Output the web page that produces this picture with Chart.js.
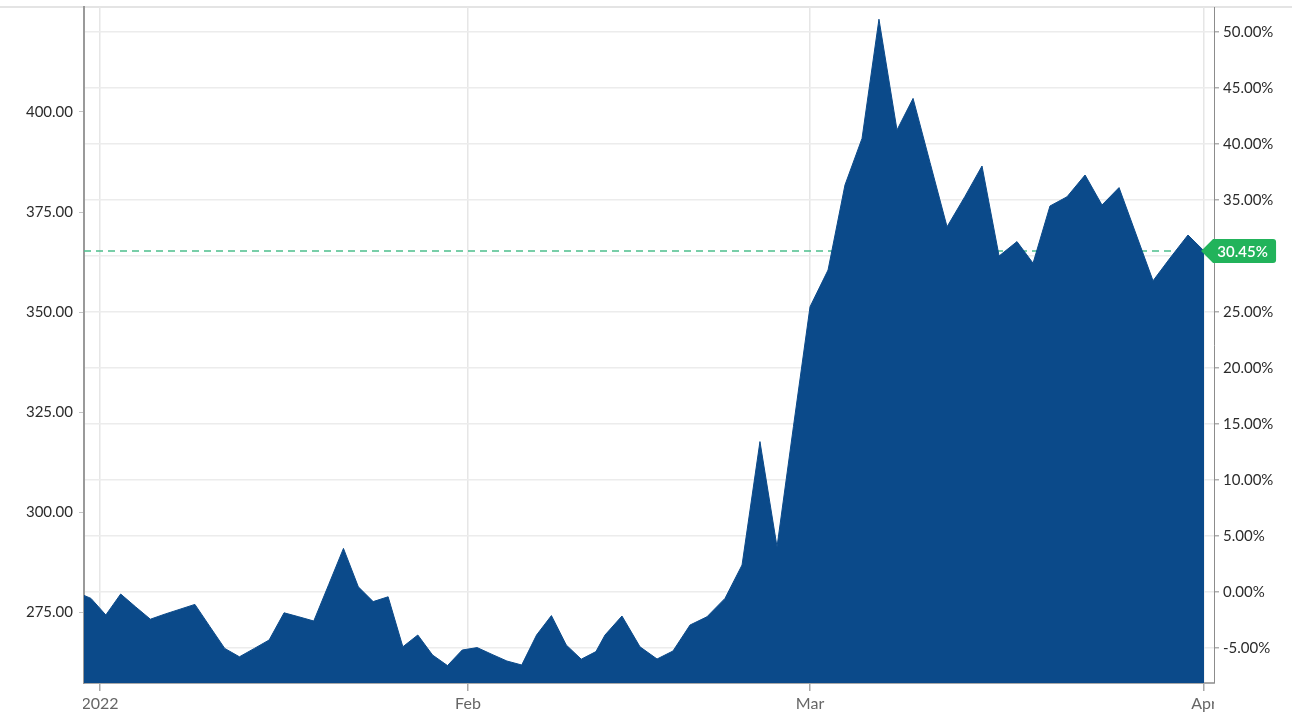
<!DOCTYPE html>
<html>
<head>
<meta charset="utf-8">
<script src="https://cdn.jsdelivr.net/npm/chart.js@4.4.1/dist/chart.umd.min.js"></script>
<style>
  html, body { margin: 0; padding: 0; background: #fff; }
  #wrap { position: relative; width: 1292px; height: 722px; }
</style>
</head>
<body>
<div id="wrap"><canvas id="priceChart"></canvas></div>
<script>
// position on the time axis, in days from 1 Jan 2022
var days = [
  -1.94, -0.73, 0.48, 1.69, 2.90, 4.11, 5.32, 6.53, 7.74, 8.95,
  10.17, 11.37, 12.59, 13.79, 15.01, 16.21, 17.43, 18.64, 19.85, 21.06,
  22.27, 23.49, 24.69, 25.91, 27.11, 28.33, 29.53, 30.75, 31.96, 33.17,
  34.38, 35.59, 36.80, 38.01, 39.23, 40.43, 41.17, 42.55, 44.02, 45.41,
  46.71, 48.10, 49.48, 50.95, 52.34, 53.80, 55.19, 56.53, 57.88, 59.35,
  60.73, 62.12, 63.50, 64.97, 66.28, 67.66, 69.05, 70.51, 71.90, 73.29,
  74.75, 76.06, 77.44, 78.83, 80.30, 81.68, 83.07, 84.45, 85.84, 87.23,
  88.69, 90.00
];

// price
var prices = [
  280.0, 278.4, 274.25, 279.5, 276.3, 273.2, 274.5, 275.7, 276.9, 271.4,
  265.9, 263.8, 265.9, 268.0, 274.8, 273.8, 272.75, 281.8, 290.9, 281.3,
  277.6, 278.8, 266.3, 269.25, 264.25, 261.6, 265.5, 266.1, 264.4, 262.75,
  261.75, 269.25, 274.1, 266.75, 263.2, 265.1, 269.25, 274.0, 266.3, 263.25,
  265.25, 271.75, 273.8, 278.4, 286.75, 317.6, 291.3, 321.4, 351.3, 360.5,
  381.75, 393.4, 423.2, 395.5, 403.4, 387.4, 371.3, 378.9, 386.5, 364.0,
  367.6, 362.2, 376.5, 378.8, 384.25, 376.75, 381.1, 369.5, 357.8, 363.5,
  369.25, 365.26
];

var priceTicks = [275, 300, 325, 350, 375, 400];
var pctTicks = [-5, 0, 5, 10, 15, 20, 25, 30, 35, 40, 45, 50];
var monthTickDays = [0, 30.0, 57.88, 90];
var monthLabels = ["2022", "Feb", "Mar", "Apr"];

var basePrice = prices[0];
var lastPrice = prices[prices.length - 1];
var priceMin = 257.25;
var priceMax = 426.25;

var blue = "#0b4a8a";
var green = "#22b35b";

Chart.defaults.font.family = "Lato, 'Open Sans', sans-serif";
Chart.defaults.font.size = 15;

function toPct(p) {
  return (p / basePrice - 1) * 100;
}

// keep label overflow from pushing the plot area around
function noPad(axis) {
  axis.paddingTop = 0;
  axis.paddingBottom = 0;
  axis.paddingLeft = 0;
  axis.paddingRight = 0;
}

var extras = {
  id: "extras",
  beforeDraw: function (chart) {
    var ctx = chart.ctx;
    var area = chart.chartArea;
    // thin top rule across the whole card
    ctx.save();
    ctx.strokeStyle = "#e4e4e4";
    ctx.lineWidth = 2;
    ctx.beginPath();
    ctx.moveTo(0, area.top);
    ctx.lineTo(chart.width, area.top);
    ctx.stroke();
    ctx.restore();

    // month labels are cut at the plot edges
    var xs = chart.scales.x;
    if (!xs._clipPatched) {
      var orig = xs.drawLabels;
      xs.drawLabels = function (a) {
        var c = this.ctx;
        c.save();
        c.beginPath();
        c.rect(chart.chartArea.left - 1, this.top, chart.chartArea.right - chart.chartArea.left + 1, this.height);
        c.clip();
        orig.call(this, a);
        c.restore();
      };
      xs._clipPatched = true;
    }
  },
  beforeDatasetsDraw: function (chart) {
    var ctx = chart.ctx;
    var y = chart.scales.y.getPixelForValue(lastPrice);
    var x1 = chart.scales.x.getPixelForValue(days[days.length - 1]);
    ctx.save();
    ctx.strokeStyle = "#4cbf8c";
    ctx.lineWidth = 1.5;
    ctx.setLineDash([7, 5]);
    ctx.beginPath();
    ctx.moveTo(chart.chartArea.left, y);
    ctx.lineTo(x1, y);
    ctx.stroke();
    ctx.restore();
  },
  afterDraw: function (chart) {
    var ctx = chart.ctx;
    var y = chart.scales.y.getPixelForValue(lastPrice);
    var tip = chart.scales.x.getPixelForValue(days[days.length - 1]) - 3;
    var left = tip + 12;
    var w = 63, h = 24, r = 3;
    ctx.save();
    ctx.fillStyle = green;
    ctx.beginPath();
    ctx.moveTo(tip, y);
    ctx.lineTo(left, y - h / 2);
    ctx.lineTo(left + w - r, y - h / 2);
    ctx.quadraticCurveTo(left + w, y - h / 2, left + w, y - h / 2 + r);
    ctx.lineTo(left + w, y + h / 2 - r);
    ctx.quadraticCurveTo(left + w, y + h / 2, left + w - r, y + h / 2);
    ctx.lineTo(left, y + h / 2);
    ctx.closePath();
    ctx.fill();
    ctx.fillStyle = "#ffffff";
    ctx.font = "600 15px Lato, 'Open Sans', sans-serif";
    ctx.textAlign = "center";
    ctx.textBaseline = "middle";
    ctx.fillText(toPct(lastPrice).toFixed(2) + "%", left + w / 2 - 2, y + 1);
    ctx.restore();
  }
};

new Chart("priceChart", {
  type: "line",
  data: {
    datasets: [
      {
        label: "Price",
        data: days.map(function (d, i) { return { x: d, y: prices[i] }; }),
        fill: "start",
        backgroundColor: blue,
        borderColor: blue,
        borderWidth: 1,
        pointRadius: 0,
        tension: 0,
        yAxisID: "y",
      },
    ],
  },
  options: {
    responsive: true,
    maintainAspectRatio: false,
    animation: false,
    layout: { padding: { top: 7, left: 0, right: 0, bottom: 0 } },
    plugins: {
      legend: { display: false },
      tooltip: { enabled: false },
    },
    scales: {
      x: {
        type: "linear",
        min: -1.3,
        max: 90.81,
        afterBuildTicks: function (axis) {
          axis.ticks = monthTickDays.map(function (d) { return { value: d }; });
        },
        ticks: {
          autoSkip: false,
          maxRotation: 0,
          color: "#666666",
          padding: 3,
          font: { size: 16 },
          callback: function (v, i) { return monthLabels[i]; },
        },
        grid: { color: "#e6e6e6", lineWidth: 1.5, tickLength: 8, tickColor: "#a8a8a8", tickWidth: 1.5 },
        border: { color: "#a8a8a8", width: 2 },
        afterFit: function (axis) { axis.height = 39; noPad(axis); },
      },
      y: {
        position: "left",
        min: priceMin,
        max: priceMax,
        afterBuildTicks: function (axis) {
          axis.ticks = priceTicks.map(function (v) { return { value: v }; });
        },
        ticks: {
          color: "#2b2b2b",
          padding: 6,
          callback: function (v) { return Number(v).toFixed(2); },
        },
        grid: { drawOnChartArea: false, tickLength: 5, tickColor: "#c4c4c4" },
        border: { color: "#9a9a9a", width: 2 },
        afterFit: function (axis) { axis.width = 84; noPad(axis); },
      },
      y2: {
        position: "right",
        min: toPct(priceMin),
        max: toPct(priceMax),
        afterBuildTicks: function (axis) {
          axis.ticks = pctTicks.map(function (v) { return { value: v }; });
        },
        ticks: {
          color: "#2b2b2b",
          padding: 4,
          callback: function (v) { return Number(v).toFixed(2) + "%"; },
        },
        grid: { color: "#ececec", lineWidth: 1.5, tickLength: 5, tickColor: "#b0b0b0" },
        border: { color: "#8c8c8c", width: 1 },
        afterFit: function (axis) { axis.width = 78; noPad(axis); },
      },
    },
  },
  plugins: [extras],
});
</script>
</body>
</html>
